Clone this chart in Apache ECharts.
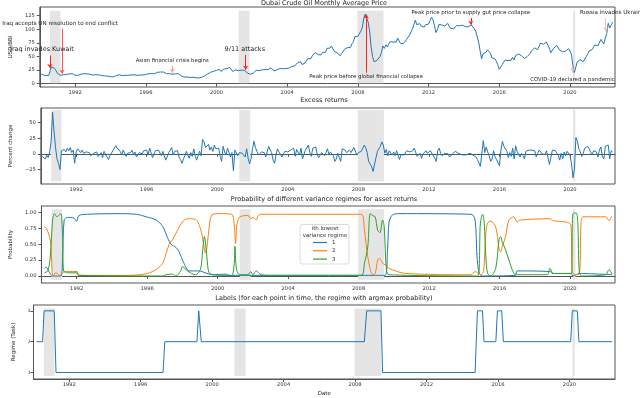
<!DOCTYPE html>
<html>
<head>
<meta charset="utf-8">
<script src="https://cdn.jsdelivr.net/npm/echarts@6/dist/echarts.min.js"></script>
<style>
html, body { margin: 0; padding: 0; background: #fff; }
#chart { width: 640px; height: 398px; }
</style>
</head>
<body>
<div id="chart"></div>
<script>
// monthly Dubai crude price, USD/bbl, one row per year from Jan 1990
const priceByYear = [
    [19, 18, 16.5, 15.5, 15, 13.5, 15, 24, 31, 31.5, 28, 24],
    [19, 16, 15.5, 16, 16.5, 16, 17, 17.5, 18, 19.5, 18.5, 16],
    [15.5, 15.5, 15.5, 16.5, 17.5, 18.5, 18.5, 18, 18, 18.5, 17.5, 16.5],
    [16, 16.5, 16.5, 16.5, 16.5, 15.5, 15, 15, 14.5, 15, 14, 12.5],
    [13, 12.5, 12.5, 14, 15, 15.5, 16.5, 16, 15, 15.5, 15.5, 15.5],
    [15.5, 16, 16, 17, 16.5, 16, 15.5, 16, 16, 15.5, 16, 17],
    [17, 17, 18.5, 19.5, 18.5, 18, 18.5, 19.5, 21, 22, 21.5, 22],
    [21.5, 19.5, 18.5, 17.5, 18.5, 17.5, 17.5, 18, 18, 19, 18.5, 17],
    [14.5, 13, 12, 12.5, 12.5, 11.5, 11.5, 11, 12, 12, 11, 9.5],
    [10.5, 10, 12, 14.5, 14.5, 15.5, 18, 19, 21, 21, 23, 24],
    [24.5, 26, 26.5, 22.5, 25.5, 27, 26, 27.5, 30, 30, 30.5, 22.5],
    [23.5, 25.5, 23, 24, 25, 25, 23.5, 24.5, 24, 19.5, 18, 17.5],
    [18.5, 19.5, 22.5, 24.5, 25, 24, 25, 25.5, 27, 26, 23.5, 26],
    [28, 29.5, 27, 23.5, 24.5, 25.5, 26.5, 28, 26, 27.5, 27.5, 28],
    [28.5, 28.5, 31, 31.5, 34.5, 32.5, 34.5, 38.5, 38, 40.5, 35.5, 34],
    [37.5, 39, 46, 48, 46, 51, 53, 57.5, 56, 53.5, 51, 53],
    [58, 57, 57.5, 65, 65, 65.5, 69.5, 69.5, 59.5, 56, 56.5, 58.5],
    [51.5, 55.5, 59, 63.5, 64.5, 66.5, 70, 67, 73.5, 77.5, 86.5, 85.5],
    [87, 90, 96.5, 103.5, 120, 128, 131.5, 113, 96.5, 67, 49.5, 40.5],
    [43.5, 43, 45.5, 50, 57.5, 69.5, 65, 71.5, 67.5, 73, 77.5, 75.5],
    [76.5, 73.5, 76.5, 84, 78.5, 74, 72.5, 74, 74.5, 81, 84.5, 89],
    [92.5, 100, 108.5, 116.5, 108.5, 107, 110.5, 106, 105, 104, 108.5, 105.5],
    [109.5, 116, 122.5, 117.5, 107, 94, 99, 109, 111, 108, 106.5, 106],
    [107.5, 111, 105.5, 101.5, 100.5, 101, 103.5, 107, 108, 106.5, 105.5, 107.5],
    [104, 105, 104.5, 104.5, 105, 108, 106, 101.5, 96.5, 86.5, 76.5, 60.5],
    [45.5, 55.5, 54.5, 57.5, 62.5, 61.5, 56, 47.5, 45.5, 46, 41.5, 35],
    [26.5, 29, 35, 39.5, 43.5, 46, 42.5, 43.5, 43, 48.5, 43.5, 51.5],
    [53.5, 54.5, 51.5, 52, 50.5, 46.5, 47.5, 50, 53.5, 55.5, 60.5, 61.5],
    [66, 62.5, 62.5, 68.5, 74.5, 73.5, 72.5, 72.5, 76.5, 79.5, 65.5, 57],
    [59, 65, 66.5, 70.5, 69.5, 61.5, 63, 59, 61, 59.5, 62, 64.5],
    [64, 54.5, 33.5, 20.5, 30.5, 40.5, 43.5, 44, 41.5, 40.5, 43.5, 49.5],
    [54, 60, 63.5, 62.5, 65.5, 71.5, 72.5, 69.5, 72.5, 81.5, 80.5, 73],
    [83.5, 92.5, 111, 102.5, 108, 113]
];

// monthly excess returns, percent, from Feb 1990
const returnsByYear = [
    [-4, -3, -8, -2, -6, 3, 20, 66, 35, 10, -8],
    [-15, -25, 5, 4, 7, 3, 9, 5, 10, 2, 6, -15],
    [3, 8, 10, 2, 6, 1, -2, 3, 4, 2, -3, -6],
    [1, -2, 3, -4, -3, 2, -6, 4, 7, -5, -9, -3],
    [-1, 5, 2, 13, 9, 7, 4, -2, 6, 3, -4, 1],
    [4, 2, 6, -1, 3, -5, -3, 2, 4, 0, 5, 3],
    [6, -2, 9, 7, -6, -3, 5, 8, 6, 9, -3, 4],
    [-3, -10, -8, 2, 6, 10, -2, 4, 7, 5, -5, -9],
    [-15, -8, -3, 4, -2, -7, 2, -4, 8, -3, -10, -12],
    [4, -3, 23, 19, 10, 12, 15, 6, 11, 4, 14, 8],
    [5, 9, -4, -12, 12, 3, -2, 9, 7, -5, 2, -27],
    [6, 9, -3, 2, 5, 1, 3, -5, 8, -7, -16, -8],
    [8, 20, 10, 4, -2, -1, 3, 6, 2, -5, -8, 12],
    [6, 2, -10, -15, -1, 8, 3, 2, -5, -2, 4, 6],
    [3, 2, 6, 4, 9, -4, 7, 8, -2, 9, -8, -10],
    [6, 5, 14, 2, -4, 9, 6, 11, -1, -6, -9, 2],
    [5, -3, 2, 8, -1, 3, 4, -3, -12, -8, 1, 3],
    [-12, 8, 5, 6, 2, 3, 6, 2, 5, 10, 9, -2],
    [2, 5, 4, 9, 14, 10, 2, -12, -13, -20, -28, -25],
    [-6, 4, 8, 12, 19, 14, 1, 7, -3, 5, 2, -2],
    [3, -3, 5, 6, -9, -1, 2, -2, 1, 5, 6, 3],
    [4, 5, 9, 7, -4, -6, 1, -7, 0, -2, 5, 1],
    [3, 5, 4, -3, -7, -12, 5, 9, 1, -3, -2, 1],
    [4, 0, -5, -4, 0, 0, 4, 3, 1, -2, -1, 1],
    [-2, 1, -1, 0, 1, 2, -2, -4, -5, -9, -11, -20],
    [-20, 21, 2, 11, 3, -3, -12, -8, 5, -5, -9, -14],
    [-19, 6, 20, 12, 9, 4, -6, 2, -4, 9, -8, 13],
    [4, 1, -5, 1, -3, -8, 4, 3, 6, 4, 6, 4],
    [5, -5, 1, 6, 5, 0, 1, -1, 5, 4, -17, -15],
    [6, 9, 5, 7, -2, -10, 1, -8, 3, -3, 4, 5],
    [-3, -15, -38, -25, 26, 20, 8, 3, -4, 1, 9, 10],
    [12, 8, 3, -2, 5, 6, 3, -5, 6, 11, -4, -8],
    [12, 10, 14, -8, 5, 3]
];

// smoothed regime probabilities, [decimal year, probability]
const prob1 = [
    [1990.17, 0.12], [1990.27, 0.14], [1990.4, 0.08], [1990.55, 0.02], [1990.64, 0.0], [1991.1, 0.0],
    [1991.2, 0.3], [1991.29, 0.88], [1991.48, 0.92], [1991.85, 0.91], [1991.98, 0.86], [1992.13, 0.95],
    [1992.6, 0.97], [1994.27, 0.98], [1995.39, 0.97], [1995.95, 0.93], [1996.51, 0.88], [1996.88, 0.78],
    [1997.16, 0.6], [1997.35, 0.5], [1997.63, 0.45], [1997.81, 0.38], [1998.09, 0.2], [1998.37, 0.08],
    [1998.93, 0.08], [1999.3, 0.05], [1999.67, 0.02], [2000.5, 0.01], [2009.5, 0.01], [2009.64, 0.4],
    [2009.73, 0.85], [2009.92, 0.96], [2010.29, 0.98], [2014.39, 0.97], [2014.61, 0.88], [2014.72, 0.3],
    [2014.85, 0.04], [2015.04, 0.0], [2016.9, 0.01], [2016.99, 0.08], [2018.85, 0.07], [2019.04, 0.04],
    [2020.07, 0.04], [2020.16, 0.0], [2020.53, 0.04], [2022.39, 0.02]
];
const prob2 = [
    [1990.17, 0.78], [1990.3, 0.74], [1990.51, 0.55], [1990.6, 0.1], [1990.66, 0.0], [1990.8, 0.05],
    [1990.9, 0.04], [1991.05, 0.01], [1991.2, 0.05], [1991.29, 0.07], [1991.9, 0.07], [1992.05, 0.02],
    [1992.5, 0.01], [1995.0, 0.01], [1995.58, 0.02], [1996.0, 0.04], [1996.5, 0.1], [1996.88, 0.2],
    [1997.07, 0.35], [1997.25, 0.5], [1997.44, 0.57], [1997.63, 0.67], [1998.0, 0.85], [1998.28, 0.9],
    [1998.74, 0.89], [1999.02, 0.75], [1999.21, 0.49], [1999.3, 0.36], [1999.39, 0.45], [1999.52, 0.77],
    [1999.67, 0.96], [2000.04, 0.98], [2000.79, 0.97], [2000.94, 0.8], [2001.02, 0.51], [2001.09, 0.8],
    [2001.26, 0.93], [2001.73, 0.95], [2001.87, 0.9], [2002.0, 0.92], [2002.19, 0.88], [2002.3, 0.95],
    [2002.47, 0.97], [2008.14, 0.97], [2008.33, 0.72], [2008.52, 0.3], [2008.8, 0.02], [2008.94, 0.04],
    [2009.08, 0.25], [2009.17, 0.28], [2009.26, 0.25], [2009.36, 0.2], [2009.54, 0.17], [2009.73, 0.12],
    [2010.66, 0.04], [2014.39, 0.02], [2014.61, 0.07], [2014.76, 0.05], [2014.94, 0.02], [2015.09, 0.07],
    [2015.22, 0.67], [2015.32, 0.83], [2015.5, 0.86], [2015.78, 0.77], [2015.97, 0.43], [2016.06, 0.38],
    [2016.15, 0.46], [2016.34, 0.62], [2016.53, 0.88], [2016.81, 0.93], [2016.99, 0.85], [2017.18, 0.88],
    [2018.86, 0.9], [2019.04, 0.87], [2019.97, 0.83], [2020.07, 0.7], [2020.12, 0.09], [2020.25, 0.02],
    [2020.53, 0.04], [2020.62, 0.83], [2020.72, 0.93], [2022.02, 0.93], [2022.21, 0.87], [2022.36, 0.94]
];
const prob3 = [
    [1990.17, 0.05], [1990.36, 0.08], [1990.5, 0.3], [1990.64, 0.9], [1990.74, 0.98], [1990.88, 0.93],
    [1991.01, 0.96], [1991.11, 0.98], [1991.2, 0.6], [1991.26, 0.08], [1991.67, 0.05], [1991.9, 0.05],
    [1991.98, 0.08], [1992.13, 0.01], [1996.88, 0.0], [1997.07, 0.02], [1997.44, 0.03], [1997.63, 0.0],
    [1997.9, 0.08], [1998.0, 0.15], [1998.28, 0.08], [1998.74, 0.02], [1999.02, 0.1], [1999.15, 0.4],
    [1999.25, 0.62], [1999.3, 0.55], [1999.39, 0.3], [1999.52, 0.05], [1999.86, 0.02], [2000.42, 0.03],
    [2000.79, 0.0], [2000.94, 0.2], [2000.98, 0.47], [2001.07, 0.1], [2001.26, 0.02], [2001.73, 0.02],
    [2001.87, 0.07], [2002.0, 0.02], [2002.19, 0.08], [2002.47, 0.02], [2003.0, 0.01], [2008.14, 0.01],
    [2008.33, 0.2], [2008.52, 0.46], [2008.66, 0.98], [2008.8, 0.95], [2008.94, 0.93], [2009.08, 0.72],
    [2009.21, 0.68], [2009.36, 0.88], [2009.45, 0.78], [2009.58, 0.09], [2009.73, 0.02], [2014.76, 0.0],
    [2014.91, 0.83], [2015.04, 0.97], [2015.13, 0.83], [2015.22, 0.3], [2015.32, 0.04], [2015.5, 0.0],
    [2015.78, 0.12], [2015.97, 0.57], [2016.06, 0.62], [2016.15, 0.54], [2016.34, 0.41], [2016.53, 0.25],
    [2016.81, 0.04], [2017.0, 0.02], [2018.7, 0.02], [2018.86, 0.12], [2019.04, 0.04], [2020.07, 0.04],
    [2020.16, 0.98], [2020.35, 0.99], [2020.44, 0.83], [2020.53, 0.04], [2020.7, 0.0], [2022.02, 0.02],
    [2022.21, 0.1], [2022.39, 0.03]
];

// argmax regime label, [decimal year, regime]
const regimeLabels = [
    [1990.17, 2], [1990.51, 2], [1990.59, 3], [1991.16, 3], [1991.26, 1], [1997.25, 1], [1997.35, 2],
    [1999.15, 2], [1999.25, 3], [1999.39, 2], [2008.52, 2], [2008.65, 3], [2009.45, 3], [2009.54, 1],
    [2014.72, 1], [2014.85, 3], [2015.13, 3], [2015.22, 2], [2015.88, 2], [2015.97, 3], [2016.21, 3],
    [2016.3, 2], [2020.07, 2], [2020.16, 3], [2020.44, 3], [2020.53, 2], [2022.39, 2]
];

// shaded recession periods
const recessions = [[1990.58, 1991.17], [2001.25, 2001.87], [2007.97, 2009.45], [2020.17, 2020.3]];

const yearTicks = [1992, 1996, 2000, 2004, 2008, 2012, 2016, 2020];

// [x, text y, arrow from, arrow to, text x, label, size, colour]
const events = [
    [1990.57, 62.5, 52, 29, 1990.12, 'Iraq invades Kuwait', 6.5, '#f22'],
    [1991.26, 110, 101, 18.5, 1991.15, 'Iraq accepts UN resolution to end conflict', 5.6, '#f55'],
    [1997.5, 42.3, 33, 20, 1997.49, 'Asian financial crisis begins', 5.3, '#f99'],
    [2001.65, 62.5, 53, 25.5, 2001.6, '9/11 attacks', 6.5, '#f22'],
    [2008.48, 12.9, 20, 127, 2008.46, 'Peak price before global financial collapse', 5.4, '#f22'],
    [2014.39, 131, 121, 108.5, 2014.39, 'Peak price prior to supply gut price collapse', 5.4, '#f22'],
    [2022.02, 130.5, 121, 96, 2022.4, 'Russia invades Ukraine', 5.6, '#fbb'],
    [2020.14, 7.4, 20, 31, 2020.14, 'COVID-19 declared a pandemic', 5.4, '#fbb']
];

function monthly(start, rows) {
    return rows.flat().map((v, i) => [start + i / 12, v]);
}

const font = 'DejaVu Sans';
const blue = '#1f77b4', orange = '#ff7f0e', green = '#2ca02c';

const panels = [
    { top: 7, height: 80, min: -6, max: 141, ticks: [0, 25, 50, 75, 100, 125], name: 'USD/BBl', gap: 20, band: [1, 134] },
    { top: 108, height: 76, min: -48, max: 73, ticks: [-25, 0, 25, 50], name: 'Percent change', gap: 21, band: [-44, 70] },
    { top: 206, height: 77, min: -0.11, max: 1.1, ticks: [0, 0.25, 0.5, 0.75, 1], name: 'Probability', gap: 22, band: [-0.06, 1.05] },
    { top: 305, height: 77, min: 0.79, max: 3.19, ticks: [1, 2, 3], name: 'Regime (Task)', gap: 13, band: [0.89, 3.08] }
];

function bands(i) {
    return {
        silent: true,
        itemStyle: { color: '#e5e5e5' },
        data: recessions.map(r => [{ coord: [r[0], panels[i].band[0]] }, { coord: [r[1], panels[i].band[1]] }])
    };
}

function lineSeries(name, axis, data, color, extra) {
    return Object.assign({
        name: name, type: 'line', xAxisIndex: axis, yAxisIndex: axis, data: data,
        symbol: 'none', lineStyle: { color: color, width: 1 }, itemStyle: { color: color }
    }, extra || {});
}

const option = {
    animation: false,
    backgroundColor: '#fff',
    textStyle: { fontFamily: font },
    title: [
        ['Dubai Crude Oil Monthly Average Price', 0],
        ['Excess returns', 97],
        ['Probability of different variance regimes for asset returns', 196],
        ['Labels (for each point in time, the regime with argmax probability)', 295]
    ].map(t => ({
        text: t[0], left: 324, top: t[1], textAlign: 'center', padding: 0,
        textStyle: { fontFamily: font, fontSize: 6.5, fontWeight: 'normal', color: '#222' }
    })),
    grid: panels.map(p => ({
        left: 33.5, width: 581.5, top: p.top, height: p.height,
        show: true, borderColor: '#555', borderWidth: 1, backgroundColor: 'transparent'
    })),
    xAxis: panels.map((p, i) => ({
        type: 'value', gridIndex: i, min: 1990, max: 2022.55,
        name: i === 3 ? 'Date' : '', nameLocation: 'middle', nameGap: 12,
        nameTextStyle: { fontFamily: font, fontSize: 5.5, color: '#222' },
        axisLine: { show: true, lineStyle: { color: '#555' } },
        axisTick: { show: true, customValues: yearTicks, length: 3, lineStyle: { color: '#555' } },
        axisLabel: { customValues: yearTicks, formatter: v => String(Math.round(v)), fontSize: 5.2, color: '#333', margin: 3 },
        splitLine: { show: false }
    })),
    yAxis: panels.map((p, i) => ({
        type: 'value', gridIndex: i, min: p.min, max: p.max,
        name: p.name, nameLocation: 'middle', nameGap: p.gap,
        nameTextStyle: { fontFamily: font, fontSize: 5.5, color: '#222' },
        axisLine: { show: true, lineStyle: { color: '#555' } },
        axisTick: { show: true, customValues: p.ticks, length: 3, lineStyle: { color: '#555' } },
        axisLabel: {
            customValues: p.ticks, fontSize: i === 3 ? 4.5 : 5.2, color: '#333', margin: i === 3 ? 3 : 5,
            formatter: v => i === 2 ? v.toFixed(2) : (v < 0 ? '\u2212' + (-v) : String(v))
        },
        splitLine: { show: false }
    })),
    legend: {
        data: ['1', '2', '3'].map(n => ({ name: n, icon: 'rect' })),
        orient: 'vertical', left: 313, top: 239.5, z: 20,
        itemWidth: 14, itemHeight: 1.2, itemGap: 2.3, padding: 0,
        textStyle: { fontFamily: font, fontSize: 5.5, color: '#333', lineHeight: 6 }
    },
    graphic: [
        { type: 'rect', z: 10, shape: { x: 300, y: 224.5, width: 49, height: 39.5, r: 2 },
          style: { fill: 'rgba(255,255,255,0.85)', stroke: '#d0d0d0', lineWidth: 0.8 } },
        { type: 'text', z: 21, x: 325, y: 225.5,
          style: { text: 'ith lowest\nvariance regime', align: 'center', fontFamily: font, fontSize: 5.5, lineHeight: 7, fill: '#333' } }
    ],
    series: [
        lineSeries('price', 0, monthly(1990, priceByYear), blue, {
            markArea: bands(0),
            markLine: {
                silent: true, symbol: ['none', 'arrow'], symbolSize: 4,
                label: { show: false },
                data: events.map(e => [
                    { coord: [e[0], e[2]], symbol: 'none', lineStyle: { color: e[7], width: 1, type: 'solid' }, itemStyle: { color: e[7] } },
                    { coord: [e[0], e[3]], symbol: 'arrow', symbolSize: 4, itemStyle: { color: e[7] } }
                ])
            },
            markPoint: {
                silent: true, symbol: 'circle', symbolSize: 1, itemStyle: { color: 'rgba(0,0,0,0)' },
                data: events.map(e => ({
                    coord: [e[4], e[1]], name: e[5],
                    label: { show: true, position: 'inside', formatter: '{b}', fontFamily: font, fontSize: e[6], color: '#222' }
                }))
            }
        }),
        lineSeries('returns', 1, monthly(1990 + 1 / 12, returnsByYear), blue, { markArea: bands(1) }),
        lineSeries('1', 2, prob1, blue, { smooth: 0.3, markArea: bands(2) }),
        lineSeries('2', 2, prob2, orange, { smooth: 0.3 }),
        lineSeries('3', 2, prob3, green, { smooth: 0.3 }),
        lineSeries('labels', 3, regimeLabels, blue, { markArea: bands(3) })
    ]
};

const myChart = echarts.init(document.getElementById('chart'), null, { renderer: 'canvas' });
myChart.setOption(option);
</script>
</body>
</html>
